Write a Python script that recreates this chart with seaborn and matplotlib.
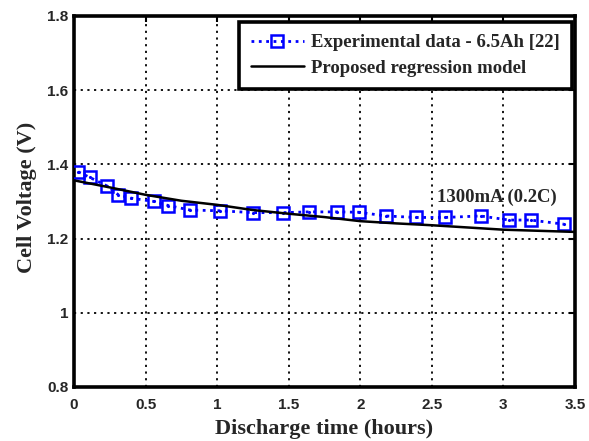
import matplotlib
matplotlib.use("Agg")
import matplotlib.pyplot as plt
import seaborn as sns

exp_t = [0.03, 0.11, 0.23, 0.31, 0.40, 0.56, 0.66, 0.81, 1.02, 1.25, 1.46, 1.64,
         1.84, 1.99, 2.18, 2.39, 2.59, 2.84, 3.04, 3.19, 3.42]
exp_v = [1.380, 1.365, 1.342, 1.318, 1.309, 1.300, 1.289, 1.277, 1.275, 1.270, 1.270, 1.272,
         1.272, 1.271, 1.261, 1.257, 1.257, 1.261, 1.250, 1.250, 1.239]

# Regression model curve
model_t = [0.0, 0.25, 0.5, 0.75, 1.0, 1.25, 1.5, 1.75, 2.0, 2.25, 2.5, 2.75, 3.0, 3.25, 3.5]
model_v = [1.357, 1.338, 1.318, 1.302, 1.291, 1.277, 1.267, 1.258, 1.247, 1.241, 1.236,
           1.230, 1.224, 1.221, 1.218]

x_ticks = [0, 0.5, 1, 1.5, 2, 2.5, 3, 3.5]
x_tick_labels = ["0", "0.5", "1", "1.5", "2", "2.5", "3", "3.5"]
y_ticks = [0.8, 1.0, 1.2, 1.4, 1.6, 1.8]
y_tick_labels = ["0.8", "1", "1.2", "1.4", "1.6", "1.8"]

sns.set_style("white")
plt.rcParams["font.family"] = ["Liberation Sans", "DejaVu Sans"]

fig = plt.figure(figsize=(5.89, 4.41), dpi=100)
ax = fig.add_axes([74 / 589, 1 - 387 / 441, (575 - 74) / 589, (387 - 16) / 441])

sns.lineplot(x=exp_t, y=exp_v, ax=ax, color="#0000ff", linestyle=":", linewidth=2,
             marker="s", markersize=8.5, markerfacecolor="none", markeredgecolor="#0000ff",
             markeredgewidth=1.8, label="Experimental data - 6.5Ah [22]", zorder=3)
sns.lineplot(x=model_t, y=model_v, ax=ax, color="black", linewidth=1.8,
             label="Proposed regression model", zorder=4)

# small dot inside square markers
ax.plot(exp_t, exp_v, linestyle="none", marker=".", markersize=2.5, color="#0000ff", zorder=3)

ax.set_xlim(0, 3.5)
ax.set_ylim(0.8, 1.8)
ax.set_xticks(x_ticks)
ax.set_xticklabels(x_tick_labels)
ax.set_yticks(y_ticks)
ax.set_yticklabels(y_tick_labels)

for lab in ax.get_xticklabels() + ax.get_yticklabels():
    lab.set_fontweight("bold")
    lab.set_fontsize(11)

ax.tick_params(direction="in", length=4, width=1.5, top=True, right=True, color="black")
ax.tick_params(axis="x", pad=8)
ax.tick_params(axis="y", pad=4)
ax.grid(True, linestyle=(0, (1.2, 2.5)), color="black", linewidth=1.3)
for sp in ax.spines.values():
    sp.set_visible(True)
    sp.set_linewidth(2.6)
    sp.set_color("black")

ax.set_xlabel("Discharge time (hours)", fontfamily="Liberation Serif", fontweight="bold",
              fontsize=16, labelpad=5)
ax.set_ylabel("Cell Voltage (V)", fontfamily="Liberation Serif", fontweight="bold",
              fontsize=16)
ax.yaxis.set_label_coords(-0.074, 0.512)

ax.text(2.535, 1.311, "1300mA (0.2C)", fontfamily="Liberation Serif", fontweight="bold",
        fontsize=13.5, va="center", ha="left")

leg = ax.legend(loc="upper right", bbox_to_anchor=(0.994, 0.984), borderaxespad=0,
                prop={"family": "Liberation Serif", "weight": "bold", "size": 13.5},
                frameon=True, fancybox=False, handlelength=2.8,
                handletextpad=0.4, borderpad=0.65, labelspacing=0.45)
leg.get_frame().set_edgecolor("black")
leg.get_frame().set_linewidth(2.6)
leg.get_frame().set_facecolor("white")
leg.get_frame().set_alpha(1)

fig.savefig("out.png", dpi=100)
